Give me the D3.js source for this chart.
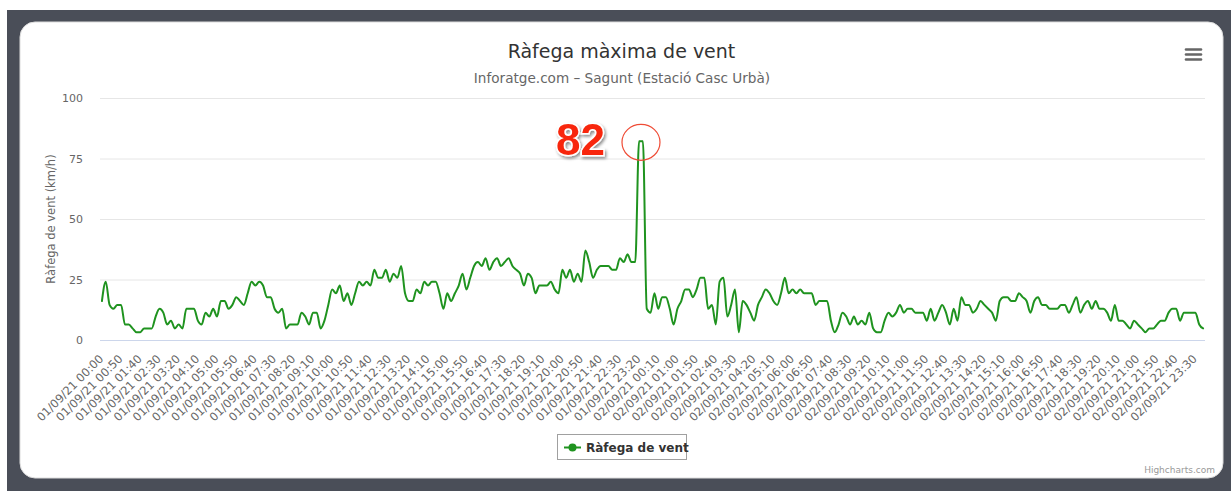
<!DOCTYPE html>
<html>
<head>
<meta charset="utf-8">
<script src="https://cdn.jsdelivr.net/npm/d3@7"></script>
<style>
  html, body { margin: 0; padding: 0; background: #fff; }
  svg { display: block; }
  text { font-family: "DejaVu Sans", "Lucida Grande", Arial, sans-serif; }
</style>
</head>
<body>
<svg id="chart" width="1231" height="491"></svg>
<script>
// ---------- DATA ----------
const chartTitle = "Ràfega màxima de vent";
const chartSubtitle = "Inforatge.com – Sagunt (Estació Casc Urbà)";
const yAxisTitle = "Ràfega de vent (km/h)";
const seriesName = "Ràfega de vent";
const yTicks = [0, 25, 50, 75, 100];
const peakLabel = "82";

// categories: every 10 minutes, 01/09/21 00:00 -> 02/09/21 23:50
const days = ["01/09/21", "02/09/21"];
const categories = [];
days.forEach(d => {
  for (let h = 0; h < 24; h++) for (let m = 0; m < 60; m += 10)
    categories.push(d + " " + String(h).padStart(2, "0") + ":" + String(m).padStart(2, "0"));
});

const gustValues = [
  16.1, 24.1, 14.5, 12.9, 14.5, 14.5, 6.4, 6.4, 4.8, 3.2,
  3.2, 4.8, 4.8, 4.8, 9.7, 12.9, 11.3, 6.4, 8.0, 4.8,
  6.4, 4.8, 12.9, 12.9, 12.9, 8.0, 6.4, 11.3, 9.7, 12.9,
  9.7, 16.1, 16.1, 12.9, 14.5, 17.7, 16.1, 14.5, 19.3, 24.1,
  22.5, 24.1, 22.5, 17.7, 17.7, 12.9, 11.3, 12.9, 4.8, 6.4,
  6.4, 6.4, 11.3, 9.7, 6.4, 11.3, 11.3, 4.8, 8.0, 14.5,
  20.9, 19.3, 22.5, 16.1, 19.3, 14.5, 19.3, 24.1, 22.5, 24.1,
  22.5, 29.0, 25.7, 25.7, 29.0, 24.1, 27.4, 25.7, 30.6, 19.3,
  16.1, 16.1, 20.9, 19.3, 24.1, 22.5, 24.1, 24.1, 19.3, 12.9,
  19.3, 16.1, 19.3, 22.5, 27.4, 20.9, 25.7, 30.6, 32.2, 30.6,
  33.8, 29.0, 32.2, 33.8, 30.6, 32.2, 33.8, 30.6, 29.0, 27.4,
  22.5, 27.4, 25.7, 19.3, 22.5, 22.5, 22.5, 24.1, 20.9, 19.3,
  29.0, 25.7, 29.0, 24.1, 27.4, 24.1, 37.0, 32.2, 25.7, 29.0,
  30.6, 30.6, 30.6, 29.0, 29.0, 33.8, 32.2, 35.4, 32.2, 32.2,
  82.1, 82.1, 12.9, 11.3, 19.3, 12.9, 17.7, 17.7, 12.9, 6.4,
  12.9, 16.1, 20.9, 20.9, 17.7, 20.9, 25.7, 25.7, 12.9, 14.5,
  6.4, 24.1, 25.7, 9.7, 14.5, 20.9, 3.2, 16.1, 14.5, 11.3,
  8.0, 14.5, 17.7, 20.9, 19.3, 16.1, 14.5, 19.3, 25.7, 19.3,
  20.9, 19.3, 20.9, 19.3, 19.3, 19.3, 14.5, 16.1, 16.1, 16.1,
  8.0, 3.2, 6.4, 11.3, 9.7, 6.4, 9.7, 6.4, 8.0, 6.4,
  11.3, 4.8, 3.2, 3.2, 8.0, 11.3, 9.7, 11.3, 14.5, 11.3,
  12.9, 12.9, 11.3, 11.3, 11.3, 8.0, 12.9, 8.0, 11.3, 14.5,
  11.3, 6.4, 12.9, 8.0, 17.7, 14.5, 14.5, 11.3, 12.9, 16.1,
  14.5, 12.9, 11.3, 8.0, 16.1, 17.7, 17.7, 16.1, 16.1, 19.3,
  17.7, 16.1, 11.3, 16.1, 17.7, 14.5, 14.5, 12.9, 12.9, 12.9,
  14.5, 14.5, 11.3, 14.5, 17.7, 11.3, 14.5, 16.1, 12.9, 16.1,
  12.9, 12.9, 11.3, 8.0, 14.5, 8.0, 8.0, 6.4, 4.8, 8.0,
  6.4, 4.8, 3.2, 4.8, 4.8, 6.4, 8.0, 8.0, 11.3, 12.9,
  12.9, 8.0, 11.3, 11.3, 11.3, 11.3, 6.4, 4.8
];
const labelStep = 5;
const tickCategories = categories.filter((c, i) => i % labelStep === 0);

// ---------- LAYOUT ----------
const W = 1231, H = 491;
const plot = { left: 100, right: 1205, top: 98, bottom: 340 };
const lineColor = "#1f931f";

const svg = d3.select("#chart");

// background frame
svg.append("rect").attr("x", 0).attr("y", 0).attr("width", W).attr("height", H).attr("fill", "#fff");
svg.append("rect").attr("x", 7).attr("y", 10).attr("width", W - 7).attr("height", H - 10).attr("fill", "#4a4e58");
svg.append("rect").attr("x", 20).attr("y", 22).attr("width", 1203).attr("height", 456)
  .attr("rx", 15).attr("fill", "#fff").attr("stroke", "#dcdcdc").attr("stroke-width", 1);

const defs = svg.append("defs");
const f = defs.append("filter").attr("id", "shadow").attr("x", "-30%").attr("y", "-30%").attr("width", "160%").attr("height", "160%");
f.append("feDropShadow").attr("dx", 1.5).attr("dy", 2).attr("stdDeviation", 1.6).attr("flood-color", "#000").attr("flood-opacity", 0.45);

// scales
const x = d3.scalePoint().domain(categories).range([plot.left, plot.right]).padding(0.5);
const y = d3.scaleLinear().domain([0, 100]).range([plot.bottom, plot.top]);

// gridlines
svg.append("g").selectAll("line").data(yTicks.filter(t => t > 0)).join("line")
  .attr("x1", plot.left).attr("x2", plot.right)
  .attr("y1", d => y(d) + 0.5).attr("y2", d => y(d) + 0.5)
  .attr("stroke", "#e6e6e6").attr("stroke-width", 1);

// y axis
const yAxis = svg.append("g").attr("transform", `translate(${plot.left},0)`)
  .call(d3.axisLeft(y).tickValues(yTicks).tickSize(0).tickPadding(17));
yAxis.select(".domain").remove();
yAxis.selectAll("text").attr("fill", "#666").style("font-size", "11px")
  .style("font-family", "'DejaVu Sans', sans-serif").attr("dy", "0.36em");

// x axis
const xAxis = svg.append("g").attr("transform", `translate(0,${plot.bottom})`)
  .call(d3.axisBottom(x).tickValues(tickCategories).tickSize(0));
xAxis.select(".domain").attr("stroke", "#ccd6eb").attr("d", `M${plot.left},0.5H${plot.right}`);
xAxis.selectAll("text")
  .attr("x", 0).attr("y", 0).attr("dy", null)
  .attr("text-anchor", "end")
  .attr("transform", "translate(1.8,19.5) rotate(-45)")
  .attr("fill", "#666").style("font-size", "11.5px")
  .style("font-family", "'DejaVu Sans', sans-serif");

// y axis title
svg.append("text").attr("transform", `translate(55,${(plot.top + plot.bottom) / 2}) rotate(-90)`)
  .attr("text-anchor", "middle").attr("fill", "#666").style("font-size", "11.5px").text(yAxisTitle);

// title & subtitle
svg.append("text").attr("x", 621.5).attr("y", 58).attr("text-anchor", "middle")
  .attr("fill", "#333").style("font-size", "19px").text(chartTitle);
svg.append("text").attr("x", 622).attr("y", 83).attr("text-anchor", "middle")
  .attr("fill", "#666").style("font-size", "13.6px").text(chartSubtitle);

// line
const line = d3.line().x((d, i) => x(categories[i])).y(d => y(d)).curve(d3.curveMonotoneX);
svg.append("path").datum(gustValues).attr("d", line)
  .attr("fill", "none").attr("stroke", lineColor).attr("stroke-width", 2)
  .attr("stroke-linejoin", "round").attr("stroke-linecap", "round");

// peak annotation
const peakIdx = gustValues.indexOf(d3.max(gustValues));
const peakX = (x(categories[peakIdx]) + x(categories[peakIdx + 1])) / 2;
svg.append("ellipse").attr("cx", peakX).attr("cy", y(d3.max(gustValues)) + 1)
  .attr("rx", 19).attr("ry", 18).attr("fill", "none").attr("stroke", "#ef4b35").attr("stroke-width", 1.2);
svg.append("text").attr("x", peakX - 36).attr("y", 155).attr("text-anchor", "end")
  .style("font-family", "'Liberation Sans', Arial, sans-serif").style("font-weight", "bold").style("font-size", "44px")
  .attr("fill", "#f8280c").attr("stroke", "#fff").attr("stroke-width", 3).style("paint-order", "stroke")
  .attr("filter", "url(#shadow)").text(peakLabel);

// legend
const lg = svg.append("g");
lg.append("rect").attr("x", 557.5).attr("y", 434.5).attr("width", 129).attr("height", 25)
  .attr("fill", "#fff").attr("stroke", "#a0a0a0").attr("stroke-width", 1);
lg.append("line").attr("x1", 564).attr("x2", 581).attr("y1", 447.5).attr("y2", 447.5)
  .attr("stroke", lineColor).attr("stroke-width", 2);
lg.append("circle").attr("cx", 572.5).attr("cy", 447.5).attr("r", 4).attr("fill", lineColor);
lg.append("text").attr("x", 586).attr("y", 452).attr("fill", "#333")
  .style("font-size", "12px").style("font-weight", "bold").text(seriesName);

// menu icon
svg.append("g").selectAll("line").data([49.5, 54.5, 59.5]).join("line")
  .attr("x1", 1186).attr("x2", 1201).attr("y1", d => d).attr("y2", d => d)
  .attr("stroke", "#666").attr("stroke-width", 2.6).attr("stroke-linecap", "round");

// credits
svg.append("text").attr("x", 1215).attr("y", 473).attr("text-anchor", "end")
  .attr("fill", "#999").style("font-size", "9px").text("Highcharts.com");
</script>
</body>
</html>
